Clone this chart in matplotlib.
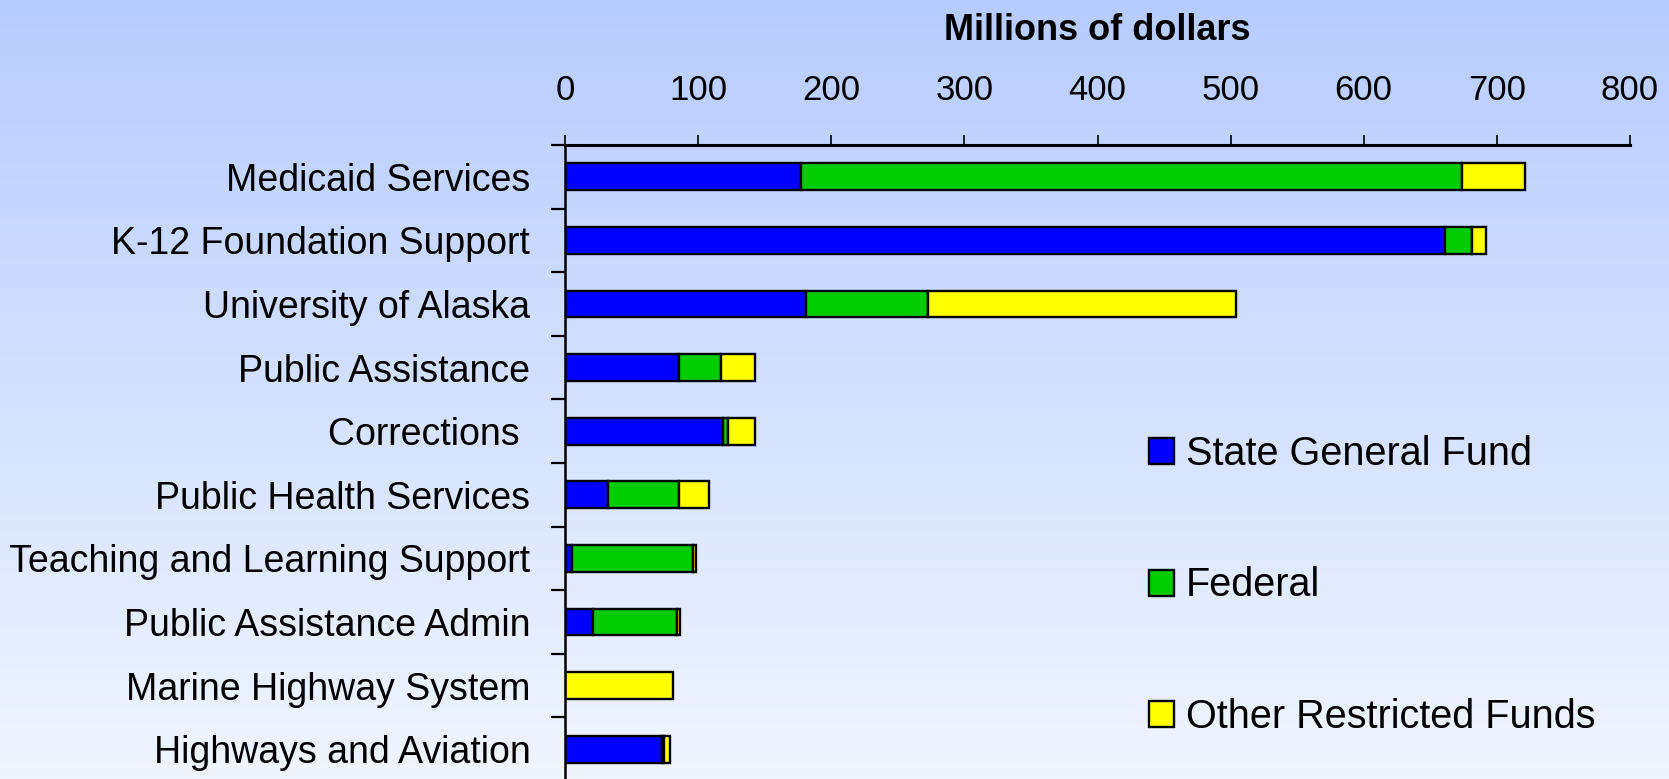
import numpy as np
import matplotlib
matplotlib.use("Agg")
import matplotlib.pyplot as plt
from matplotlib.colors import LinearSegmentedColormap

plt.rcParams['font.family'] = ['Liberation Sans', 'DejaVu Sans']

# data (millions of dollars)
categories = ["Medicaid Services", "K-12 Foundation Support", "University of Alaska",
              "Public Assistance", "Corrections ", "Public Health Services",
              "Teaching and Learning Support", "Public Assistance Admin",
              "Marine Highway System", "Highways and Aviation"]
state_general = [177, 661, 181, 86, 119, 32, 5, 21, 0, 73]
federal = [497, 20, 92, 31, 3.5, 54, 91, 63, 0, 1.5]
other_restricted = [47, 11, 231, 26, 20, 22, 2.5, 2.5, 81, 4]
series_names = ["State General Fund", "Federal", "Other Restricted Funds"]
colors = ["#0000FF", "#00CC00", "#FFFF00"]
xticks = [0, 100, 200, 300, 400, 500, 600, 700, 800]

W, H = 1669, 779
fig = plt.figure(figsize=(W / 100, H / 100), dpi=100)

# background gradient
bg = fig.add_axes([0, 0, 1, 1], zorder=-10)
cmap = LinearSegmentedColormap.from_list("bg", ["#B7CCFE", "#F0F5FF"])
bg.imshow(np.linspace(0, 1, 256).reshape(-1, 1), aspect="auto", cmap=cmap,
          extent=[0, 1, 0, 1])
bg.set_axis_off()

# main axes
left, right, top, bottom = 565, 1630, 145, 781
ax = fig.add_axes([left / W, 1 - bottom / H, (right - left) / W, (bottom - top) / H])
ax.patch.set_alpha(0)

y = np.arange(len(categories))
h = 0.42
lefts = np.zeros(len(categories))
bars = []
for vals, name, c in zip([state_general, federal, other_restricted], series_names, colors):
    b = ax.barh(y, vals, height=h, left=lefts, color=c, edgecolor="black",
                linewidth=1.7, label=name)
    bars.append(b)
    lefts = lefts + np.array(vals)

ax.set_xlim(0, 800)
ax.set_ylim(len(categories) - 0.5, -0.5)

# value axis on top
ax.xaxis.tick_top()
ax.set_xticks(xticks)
ax.tick_params(axis="x", direction="out", length=7.5, width=1.2, pad=20,
               labelsize=25)

# category axis
ax.set_yticks(y)
ax.set_yticklabels(categories)
ax.set_yticks(np.arange(-0.5, len(categories)), minor=True)
ax.tick_params(axis="y", which="major", length=0, pad=25, labelsize=27)
ax.tick_params(axis="y", which="minor", direction="out", length=10, width=1.6)

for s in ["right", "bottom"]:
    ax.spines[s].set_visible(False)
ax.spines["top"].set_linewidth(2.2)
ax.spines["left"].set_linewidth(1.8)

fig.text((left + right) / 2 / W, 1 - 31 / H, "Millions of dollars",
         ha="center", va="center", fontsize=26, fontweight="bold")

ax.legend(handles=bars, labels=series_names, loc="center left",
          bbox_to_anchor=(1149 / W, 1 - 585.5 / H), bbox_transform=fig.transFigure,
          frameon=False, fontsize=28.5, handlelength=0.63, handleheight=0.63,
          handletextpad=0.3, labelspacing=2.36, borderpad=0, borderaxespad=0)

fig.savefig("out.png", dpi=100)
